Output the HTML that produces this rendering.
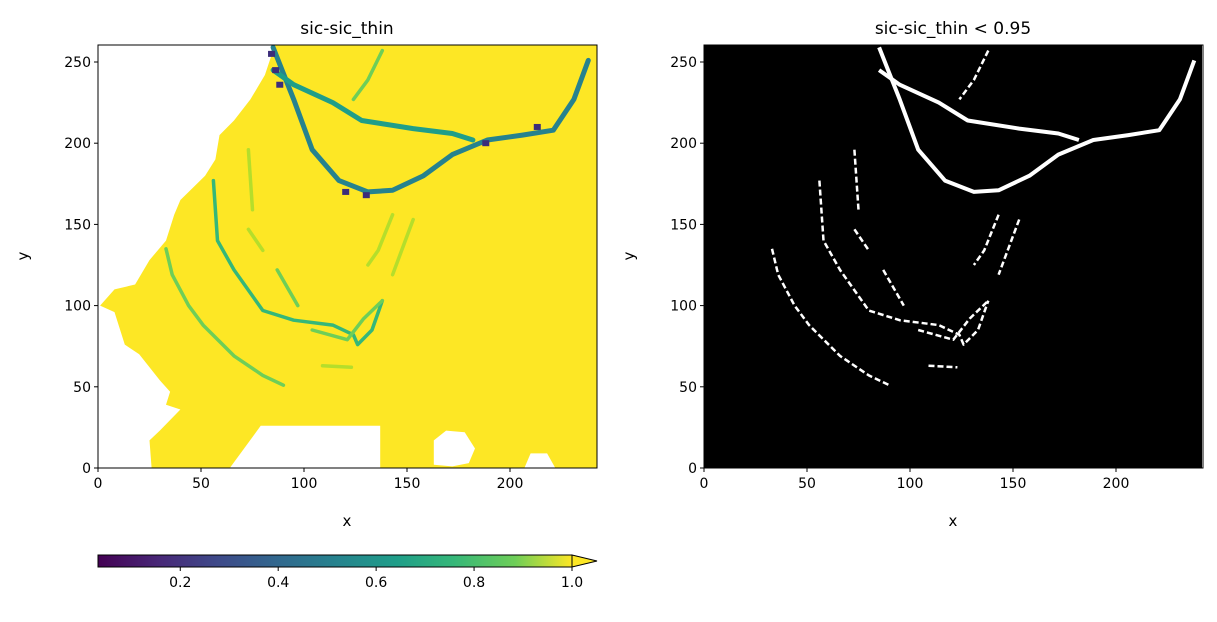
<!DOCTYPE html>
<html><head><meta charset="utf-8">
<style>
body{margin:0;background:#fff;font-family:"Liberation Sans","DejaVu Sans",sans-serif;}
svg text{font-family:"DejaVu Sans","Liberation Sans",sans-serif;fill:#000;}
</style></head>
<body>
<svg id="chart" width="1217" height="617" viewBox="0 0 1217 617">
<defs>
<linearGradient id="viridis" x1="0" x2="1" y1="0" y2="0">
<stop offset="0" stop-color="#440154"/><stop offset="0.13" stop-color="#482878"/>
<stop offset="0.25" stop-color="#3e4989"/><stop offset="0.38" stop-color="#31688e"/>
<stop offset="0.5" stop-color="#26828e"/><stop offset="0.63" stop-color="#1f9e89"/>
<stop offset="0.75" stop-color="#35b779"/><stop offset="0.88" stop-color="#6ece58"/>
<stop offset="1" stop-color="#fde725"/>
</linearGradient>
<clipPath id="clipL"><rect x="98" y="45" width="499" height="423"/></clipPath>
<clipPath id="clipR"><rect x="704" y="45" width="498" height="423"/></clipPath>
</defs>
<g id="left"></g>
<g id="right"></g>
<g id="cbar"></g>
</svg>
<script>
const xTicks=[0,50,100,150,200];
const yTicks=[0,50,100,150,200,250];
const cbTicks=[0.2,0.4,0.6,0.8,1.0];
const maskLeft=[[0,261],[86,261],[81,242],[74,227],[66,214],[59,205],[57,190],[52,180],[40,165],[37,156],[33,140],[25,128],[18,113],[8,110],[1,100],[8,96],[13,76],[20,70],[30,54],[35,47],[33,39],[40,36],[30,23],[25,17],[26,0],[0,0]];
const maskBottom1=[[64,0],[79,26],[137,26],[137,0]];
const maskBottom2=[[163,2],[163,17],[169,23],[178,22],[183,12],[180,3],[172,1]];
const maskBottom3=[[207,0],[210,9],[218,9],[222,0]];
const cracks=[
 {v:0.45,pts:[[85,259],[95,227],[104,196],[117,177],[131,170],[143,171],[158,180],[172,193],[189,202],[206,205],[221,208],[231,227],[238,251]]},
 {v:0.55,pts:[[85,245],[95,236],[114,225],[128,214],[153,209],[172,206],[182,202]]},
 {v:0.8,pts:[[138,257],[131,239],[124,227]]},
 {v:0.75,pts:[[33,135],[36,119],[44,100],[51,88],[66,69],[80,57],[90,51]]},
 {v:0.7,pts:[[56,177],[58,140],[66,122],[80,97],[95,91],[114,88],[124,82],[126,76],[133,85],[138,103]]},
 {v:0.85,pts:[[73,196],[75,159]]},
 {v:0.85,pts:[[73,147],[80,134]]},
 {v:0.8,pts:[[87,122],[97,100]]},
 {v:0.8,pts:[[104,85],[121,79],[129,92],[138,103]]},
 {v:0.85,pts:[[143,156],[136,134],[131,125]]},
 {v:0.85,pts:[[153,153],[143,119]]},
 {v:0.85,pts:[[109,63],[123,62]]}
];
const darkSpots=[[84,255],[86,245],[88,236],[120,170],[130,168],[188,200],[213,210]];
const NS="http://www.w3.org/2000/svg";
function mk(tag,attrs,parent){const e=document.createElementNS(NS,tag);for(const k in attrs)e.setAttribute(k,attrs[k]);parent.appendChild(e);return e;}
const vir=["#440154","#482878","#3e4989","#31688e","#26828e","#1f9e89","#35b779","#6ece58","#b5de2b","#fde725"];
function vcol(v){const t=Math.max(0,Math.min(1,(v-0.032)/(1-0.032)));return vir[Math.min(9,Math.round(t*9))];}
function panel(g,x0,clip,mode,title){
  const X=d=>x0+d*2.06, Y=d=>468-d*1.624;
  const pts=a=>a.map(p=>X(p[0]).toFixed(1)+","+Y(p[1]).toFixed(1)).join(" ");
  const inner=mk("g",{"clip-path":"url(#"+clip+")"},g);
  if(mode==="L"){
    const bg=mk("rect",{x:x0,y:45,width:499,height:423,fill:"#fde725"},inner);
    
    
    [maskLeft,maskBottom1,maskBottom2,maskBottom3].forEach(m=>{
      const p=mk("polygon",{points:pts(m),fill:"#fff"},inner);
      
      
    });
    cracks.forEach(c=>{
      const l=mk("polyline",{points:pts(c.pts),fill:"none",stroke:vcol(c.v),"stroke-width":c.v<0.6?5:3.5,"stroke-linejoin":"round","stroke-linecap":"round"},inner);
      
      
    });
    darkSpots.forEach(s=>{
      const r=mk("rect",{x:X(s[0])-3,y:Y(s[1])-3,width:7,height:6,fill:"#3b2d7a"},inner);
      
      
    });
  } else {
    const bg=mk("rect",{x:x0,y:45,width:498,height:423,fill:"#000"},inner);
    
    
    cracks.forEach(c=>{
      const l=mk("polyline",{points:pts(c.pts),fill:"none",stroke:"#fff","stroke-width":c.v<0.6?4:2.5,"stroke-dasharray":c.v<0.6?"none":"6 3","stroke-linejoin":"round"},inner);
      
      
    });
  }
  const fr=mk("rect",{x:x0,y:45,width:499,height:423,fill:"none",stroke:"#000","stroke-width":1},g);
  
  
  xTicks.forEach(t=>{
    mk("line",{x1:X(t),x2:X(t),y1:468,y2:472,stroke:"#000"},g);
    const tx=mk("text",{x:X(t),y:488,"font-size":14,"text-anchor":"middle"},g);tx.textContent=t;
    
    
  });
  yTicks.forEach(t=>{
    mk("line",{x1:x0,x2:x0-4,y1:Y(t),y2:Y(t),stroke:"#000"},g);
    const tx=mk("text",{x:x0-7,y:Y(t)+5,"font-size":14,"text-anchor":"end"},g);tx.textContent=t;
    
    
  });
  const xl=mk("text",{x:x0+249,y:526,"font-size":15,"text-anchor":"middle"},g);xl.textContent="x";
  
  
  const yl=mk("text",{x:0,y:0,"font-size":15,"text-anchor":"middle",transform:"translate("+(x0-70)+",256) rotate(-90)"},g);yl.textContent="y";
  
  
  const tt=mk("text",{x:x0+249,y:34,"font-size":17,"text-anchor":"middle"},g);tt.textContent=title;
  
  
}
panel(document.getElementById("left"),98,"clipL","L","sic-sic_thin");
panel(document.getElementById("right"),704,"clipR","R","sic-sic_thin < 0.95");
const cb=document.getElementById("cbar");
const cbX=v=>98+(v-0.032)/(1-0.032)*474;
const cr=mk("rect",{x:98,y:555,width:474,height:12,fill:"url(#viridis)"},cb);


const ext=mk("polygon",{points:"572,555 597,561 572,567",fill:"#fde725",stroke:"#000","stroke-width":1},cb);


mk("polyline",{points:"572,555 98,555 98,567 572,567",fill:"none",stroke:"#000","stroke-width":1},cb);
cbTicks.forEach(t=>{
  mk("line",{x1:cbX(t),x2:cbX(t),y1:567,y2:571,stroke:"#000"},cb);
  const tx=mk("text",{x:cbX(t),y:587,"font-size":14,"text-anchor":"middle"},cb);tx.textContent=t.toFixed(1);
  
  
});
</script>
</body></html>
